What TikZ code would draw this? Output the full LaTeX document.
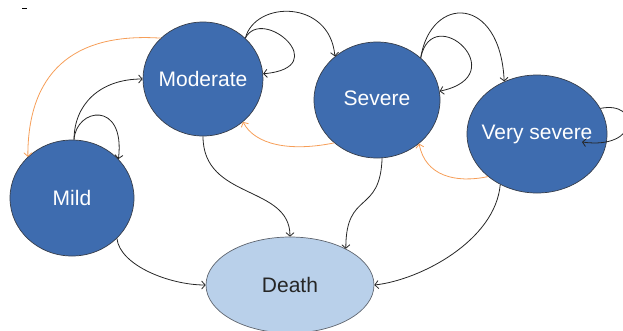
\documentclass[tikz,border=0pt]{standalone}
\usepackage{fontspec}
\setmainfont{Liberation Sans}
\usetikzlibrary{shapes.geometric,arrows.meta}

\definecolor{stateblue}{RGB}{62,108,175}
\definecolor{deathblue}{RGB}{185,208,234}
\definecolor{rimgray}{RGB}{55,62,75}
\definecolor{backorange}{RGB}{246,158,88}

\tikzset{
  >={Straight Barb[length=3.5pt,width=8pt]},
  stage/.style={ellipse, draw=rimgray, line width=0.7pt, fill=stateblue,
    text=white, inner xsep=-15pt, inner ysep=0pt},
  outcome/.style={ellipse, draw=rimgray!80, line width=0.7pt, fill=deathblue,
    text=black!85, inner sep=0pt},
  fwd/.style={->, draw=black!85, line width=0.8pt},
  bwd/.style={->, draw=backorange, line width=0.8pt}
}

\begin{document}
\begin{tikzpicture}[x=1pt, y=-1pt, font=\fontsize{21}{25}\selectfont]
    \useasboundingbox (0,0) rectangle (623,330);

    % States
    \node[stage, minimum width=124pt, minimum height=116pt] (mild) at (72,198) {Mild};
    \node[stage, minimum width=120pt, minimum height=114pt] (moderate) at (203,79) {Moderate};
    \node[stage, minimum width=126pt, minimum height=116pt] (severe) at (377,100) {\raisebox{3pt}{Severe}};
    \node[stage, minimum width=140pt, minimum height=118pt] (vsevere) at (537,134) {\raisebox{4pt}{Very severe}};
    \node[outcome, minimum width=168pt, minimum height=96pt] (death) at (290,285) {\raisebox{-2pt}{Death}};

    % Stray mark top left
    \draw[line width=0.6pt] (22,8) -- (27,8);

    % Improvement (orange)
    \draw[bwd] (moderate.136) .. controls +(-90,-6) and +(0,-82) .. (mild.137);
    \draw[bwd] (severe.225) .. controls +(-44,9) and +(12,23) .. (moderate.313);
    \draw[bwd] (vsevere.221) .. controls +(-33,7) and +(6,32) .. (severe.314);

    % Progression and staying
    \draw[fwd] (mild.88) .. controls +(0,-35) and +(-43,0) .. (moderate.180);
    \draw[fwd] (mild.88) .. controls +(2,-32) and +(7,-59) .. (mild.40);
    \draw[fwd] (moderate.44) .. controls +(10,-38) and +(-5,-57) .. (severe.134);
    \draw[fwd] (moderate.44) .. controls +(17,-33) and +(72,-6) .. (moderate.5);
    \draw[fwd] (severe.44) .. controls +(10,-63) and +(-4,-87) .. (vsevere.122);
    \draw[fwd] (severe.44) .. controls +(12,-58) and +(76,-16) .. (severe.8);
    \coordinate (vsloop) at ([shift={(45,8)}]vsevere.center);
    \draw[fwd] (vsevere.22) .. controls +(40,-8) and +(58,8) .. (vsloop);

    % Death
    \draw[fwd] (mild.318) .. controls +(3,27) and +(-36,0) .. (death.180);
    \draw[fwd] (moderate.270) .. controls +(0,64) and +(0,-52) .. (death.90);
    \draw[fwd] (severe.275) .. controls +(-2,57) and +(0,-59) .. (death.33);
    \draw[fwd] (vsevere.234) .. controls +(-5,56) and +(46,-5) .. (death.0);
\end{tikzpicture}
\end{document}
